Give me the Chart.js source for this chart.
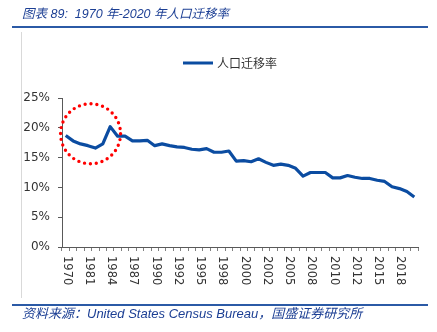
<!DOCTYPE html>
<html>
<head>
<meta charset="utf-8">
<script src="https://cdn.jsdelivr.net/npm/chart.js@4.4.1/dist/chart.umd.min.js"></script>
<style>
  html, body { margin: 0; padding: 0; background: #ffffff; }
  #wrap { position: relative; width: 437px; height: 332px; overflow: hidden; }
  #c { position: absolute; left: 0; top: 0; }
  .title { position: absolute; left: 22px; top: 3px; font: italic 12.5px "Liberation Sans", "Noto Sans CJK SC", sans-serif; color: #1c3f94; white-space: nowrap; }
  .source { position: absolute; left: 22px; font: italic 13px "Liberation Sans", "Noto Sans CJK SC", sans-serif; color: #1c3f94; white-space: nowrap; }
  .rule { position: absolute; left: 12px; width: 416px; height: 2px; background: #2b5aa6; }
  .vline { position: absolute; left: 21px; top: 32px; width: 1px; height: 266px; background: #d9d9d9; }
</style>
</head>
<body>
<div id="wrap">
  <canvas id="c" width="437" height="332"></canvas>
  <div class="title">图表 89:&nbsp; 1970 年-2020 年人口迁移率</div>
  <div class="rule" style="top:26px"></div>
  <div class="vline"></div>
  <div class="rule" style="top:304px"></div>
  <div class="source" style="top:303px">资料来源：United States Census Bureau，国盛证券研究所</div>
</div>
<script>
const years = ["1970","1975","1980","1981","1982","1983","1984","1985","1986","1987","1988","1989","1990","1991","1991","1992","1993","1994","1995","1996","1997","1998","1999","2000","2000","2001","2001","2002","2003","2004","2005","2006","2007","2008","2009","2009","2010","2011","2011","2012","2013","2014","2015","2016","2017","2018","2019","2020"];
const migrationRate = [18.7,17.8,17.3,17.0,16.6,17.3,20.2,18.6,18.6,17.8,17.8,17.9,17.0,17.3,17.0,16.8,16.7,16.4,16.3,16.5,15.9,15.9,16.1,14.4,14.5,14.3,14.8,14.2,13.7,13.9,13.7,13.2,11.9,12.5,12.5,12.5,11.6,11.6,12.0,11.7,11.5,11.5,11.2,11.0,10.1,9.8,9.3,8.4];
const seriesName = "人口迁移率";
const yTicks = [0, 5, 10, 15, 20, 25];
const labelEvery = 3;
const highlightCenter = { index: 3.35, value: 19.0 };

const LINE_COLOR = "#0b4ca1";

const overlay = {
  id: "overlay",
  afterDraw(chart) {
    const ctx = chart.ctx;
    const xs = chart.scales.x, ys = chart.scales.y;
    // x labels rotated clockwise
    ctx.save();
    ctx.fillStyle = "#333333";
    ctx.font = "11.5px 'DejaVu Sans'";
    ctx.textAlign = "left";
    ctx.textBaseline = "middle";
    years.forEach((lab, i) => {
      if (i % labelEvery !== 0) return;
      const x = xs.getPixelForValue(i);
      ctx.save();
      ctx.translate(x + 1, xs.top + 9);
      ctx.rotate(Math.PI / 2);
      ctx.fillText(lab, 0, 0);
      ctx.restore();
    });
    ctx.restore();
    // legend
    const ds = chart.data.datasets[0];
    ctx.save();
    ctx.strokeStyle = ds.borderColor;
    ctx.lineWidth = 3;
    ctx.beginPath();
    ctx.moveTo(183, 63);
    ctx.lineTo(213, 63);
    ctx.stroke();
    ctx.fillStyle = "#333333";
    ctx.font = "12px 'Noto Sans CJK SC'";
    ctx.textBaseline = "middle";
    ctx.textAlign = "left";
    ctx.fillText(ds.label, 217, 63);
    ctx.restore();
    // red dotted highlight circle
    const cx = xs.getPixelForValue(highlightCenter.index);
    const cy = ys.getPixelForValue(highlightCenter.value);
    ctx.save();
    ctx.strokeStyle = "#ff0000";
    ctx.lineWidth = 3.4;
    ctx.lineCap = "round";
    ctx.setLineDash([0, 5.9]);
    ctx.beginPath();
    ctx.arc(cx, cy, 30, 0, Math.PI * 2);
    ctx.stroke();
    ctx.restore();
  }
};

new Chart(document.getElementById("c"), {
  type: "line",
  data: {
    labels: years,
    datasets: [{
      label: seriesName,
      data: migrationRate,
      borderColor: LINE_COLOR,
      backgroundColor: LINE_COLOR,
      borderWidth: 3.2,
      pointRadius: 0,
      tension: 0,
      borderJoinStyle: "round"
    }]
  },
  options: {
    responsive: false,
    animation: false,
    devicePixelRatio: 1,
    layout: { padding: { left: 0, right: 19, top: 98, bottom: 0 } },
    plugins: { legend: { display: false }, tooltip: { enabled: false }, title: { display: false } },
    scales: {
      x: {
        type: "category",
        offset: true,
        grid: { offset: true, drawOnChartArea: false, drawTicks: true, tickLength: 4, color: "#808080", lineWidth: 1 },
        border: { display: true, color: "#595959", width: 1 },
        ticks: { display: false, autoSkip: false },
        afterFit(scale) { scale.height = 85; }
      },
      y: {
        min: 0, max: 25,
        afterBuildTicks(scale) { scale.ticks = yTicks.map(v => ({ value: v })); },
        grid: { drawOnChartArea: false, drawTicks: true, tickLength: 4, color: "#595959" },
        border: { display: true, color: "#595959", width: 1 },
        ticks: {
          color: "#333333",
          font: { family: "DejaVu Sans", size: 12 },
          padding: 8,
          callback: v => v + "%"
        },
        afterFit(scale) { scale.width = 62; }
      }
    }
  },
  plugins: [overlay]
});
</script>
</body>
</html>
